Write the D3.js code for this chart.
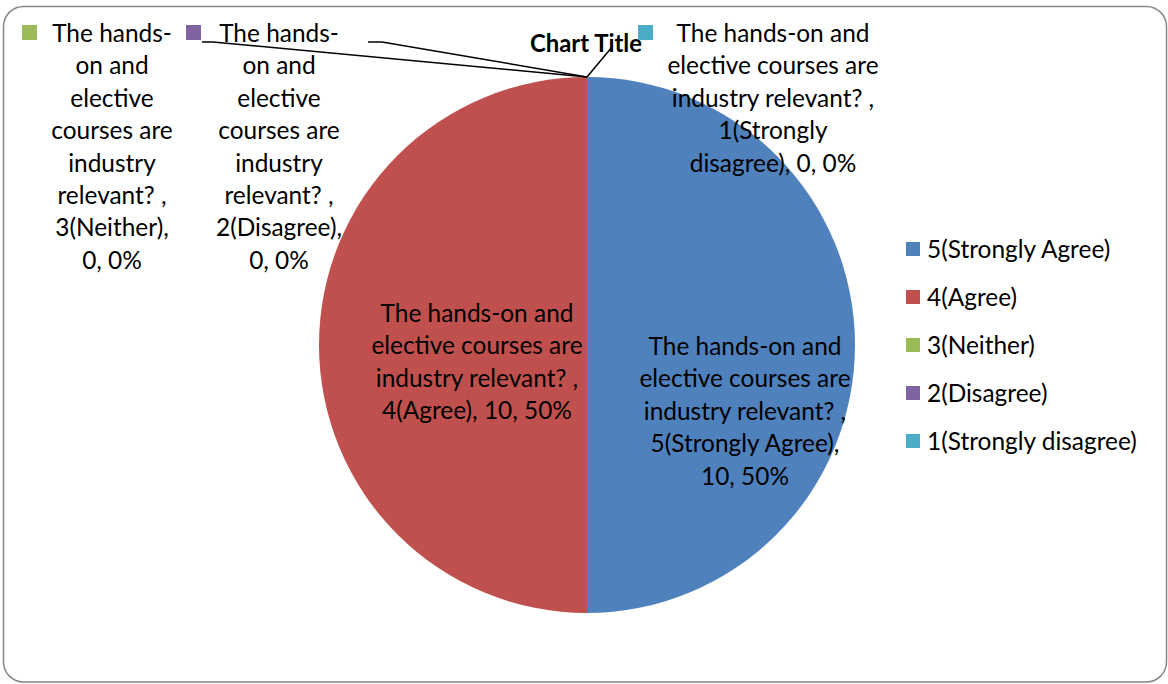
<!DOCTYPE html>
<html>
<head>
<meta charset="utf-8">
<script src="https://cdn.jsdelivr.net/npm/d3@7"></script>
<style>
  body { margin: 0; background: #fff; }
</style>
</head>
<body>
<svg id="svg"></svg>
<script>
// DATA
const question = 'The hands-on and elective courses are industry relevant?';
const categories = ['5(Strongly Agree)', '4(Agree)', '3(Neither)', '2(Disagree)', '1(Strongly disagree)'];
const counts = [10, 10, 0, 0, 0];
const colours = ['#4F81BD', '#C0504D', '#9BBB59', '#8064A2', '#4BACC6'];
const title = 'Chart Title';

const width = 1168;
const height = 684;
const font = 'Lato, "Open Sans", sans-serif';

const svg = d3.select('#svg')
  .attr('width', width)
  .attr('height', height);

// pick font sizes so text widths come close to the original Calibri ones
function fit(str, target, weight) {
  const t = svg.append('text')
    .attr('font-family', font)
    .attr('font-size', 100)
    .attr('font-weight', weight)
    .text(str);
  const w = t.node().getComputedTextLength();
  t.remove();
  return 100 * target / w;
}
const fontSize = fit('The hands-on and', 193, 'normal');
const titleSize = fit(title, 112, 'bold');
const lineHeight = 32.4;

// border
svg.append('rect')
  .attr('x', 3.5)
  .attr('y', 6.5)
  .attr('width', 1163)
  .attr('height', 675.5)
  .attr('rx', 20)
  .attr('fill', '#fff')
  .attr('stroke', '#878787')
  .attr('stroke-width', 1.5);

// PIE
const cx = 587, cy = 345, radius = 268;
const total = d3.sum(counts);
const data = categories.map((c, i) => ({ category: c, value: counts[i], colour: colours[i] }));

const pie = d3.pie().sort(null).value(d => d.value);
const arc = d3.arc().innerRadius(0).outerRadius(radius);
const arcs = pie(data);

const pieGroup = svg.append('g')
  .attr('transform', `translate(${cx}, ${cy})`);

pieGroup.selectAll('path')
  .data(arcs)
  .enter()
  .append('path')
  .attr('d', arc)
  .attr('fill', d => d.data.colour);

// TITLE
svg.append('text')
  .attr('x', 586)
  .attr('y', 52)
  .attr('text-anchor', 'middle')
  .attr('font-family', font)
  .attr('font-weight', 'bold')
  .attr('font-size', titleSize)
  .text(title);

// DATA LABELS (Excel's best-fit positions)
const labelPos = [
  { x: 745, y: 355, wrap: 222 },
  { x: 477, y: 322, wrap: 222 },
  { x: 112, y: 42, wrap: 132, key: [22, 25] },
  { x: 279, y: 42, wrap: 132, key: [186, 25] },
  { x: 773, y: 42, wrap: 212, key: [638, 25] }
];
// leader line ends for the zero slices
const leaderEnds = [null, null, [[382, 42], [368, 42]], [[213, 42], [202, 42]], [[612, 47]]];

const measure = svg.append('text')
  .attr('font-family', font)
  .attr('font-size', fontSize);
function textWidth(s) {
  measure.text(s);
  return measure.node().getComputedTextLength();
}

// greedy wrap, breaks allowed at spaces and after hyphens
function wrap(str, maxW) {
  const tokens = str.match(/[^\s-]+-?|-/g);
  const seps = [];
  let pos = 0;
  tokens.forEach(t => {
    const idx = str.indexOf(t, pos);
    pos = idx + t.length;
    seps.push(str[pos] === ' ' ? ' ' : '');
  });
  const lines = [];
  let cur = '';
  let prevSep = '';
  tokens.forEach((t, i) => {
    const trial = cur === '' ? t : cur + prevSep + t;
    if (cur !== '' && textWidth(trial) > maxW) {
      lines.push(cur);
      cur = t;
    } else {
      cur = trial;
    }
    prevSep = seps[i];
  });
  if (cur) lines.push(cur);
  return lines;
}

// leader lines
const pieTop = [cx, cy - radius];
leaderEnds.forEach(pts => {
  if (!pts) return;
  svg.append('path')
    .attr('d', d3.line()([pieTop, ...pts]))
    .attr('fill', 'none')
    .attr('stroke', '#000')
    .attr('stroke-width', 1.5);
});

arcs.forEach((a, i) => {
  const p = labelPos[i];
  const pct = Math.round(100 * a.data.value / total);
  const str = `${question} , ${a.data.category}, ${a.data.value}, ${pct}%`;
  const lines = wrap(str, p.wrap);
  const t = svg.append('text')
    .attr('font-family', font)
    .attr('font-size', fontSize)
    .attr('text-anchor', 'middle')
    .attr('fill', '#000');
  lines.forEach((l, j) => {
    t.append('tspan')
      .attr('x', p.x)
      .attr('y', p.y + j * lineHeight)
      .text(l);
  });
  if (p.key) {
    svg.append('rect')
      .attr('x', p.key[0])
      .attr('y', p.key[1])
      .attr('width', 15)
      .attr('height', 15)
      .attr('fill', a.data.colour);
  }
});
measure.remove();

// LEGEND
const legend = svg.append('g')
  .attr('transform', 'translate(906, 0)');
const legendY = d3.scalePoint()
  .domain(categories)
  .range([249, 441]);

legend.selectAll('rect')
  .data(data)
  .enter()
  .append('rect')
  .attr('x', 0)
  .attr('y', d => legendY(d.category) - 7)
  .attr('width', 14)
  .attr('height', 14)
  .attr('fill', d => d.colour);

legend.selectAll('text')
  .data(data)
  .enter()
  .append('text')
  .attr('x', 21)
  .attr('y', d => legendY(d.category) + 9)
  .attr('font-family', font)
  .attr('font-size', fontSize)
  .text(d => d.category);
</script>
</body>
</html>
